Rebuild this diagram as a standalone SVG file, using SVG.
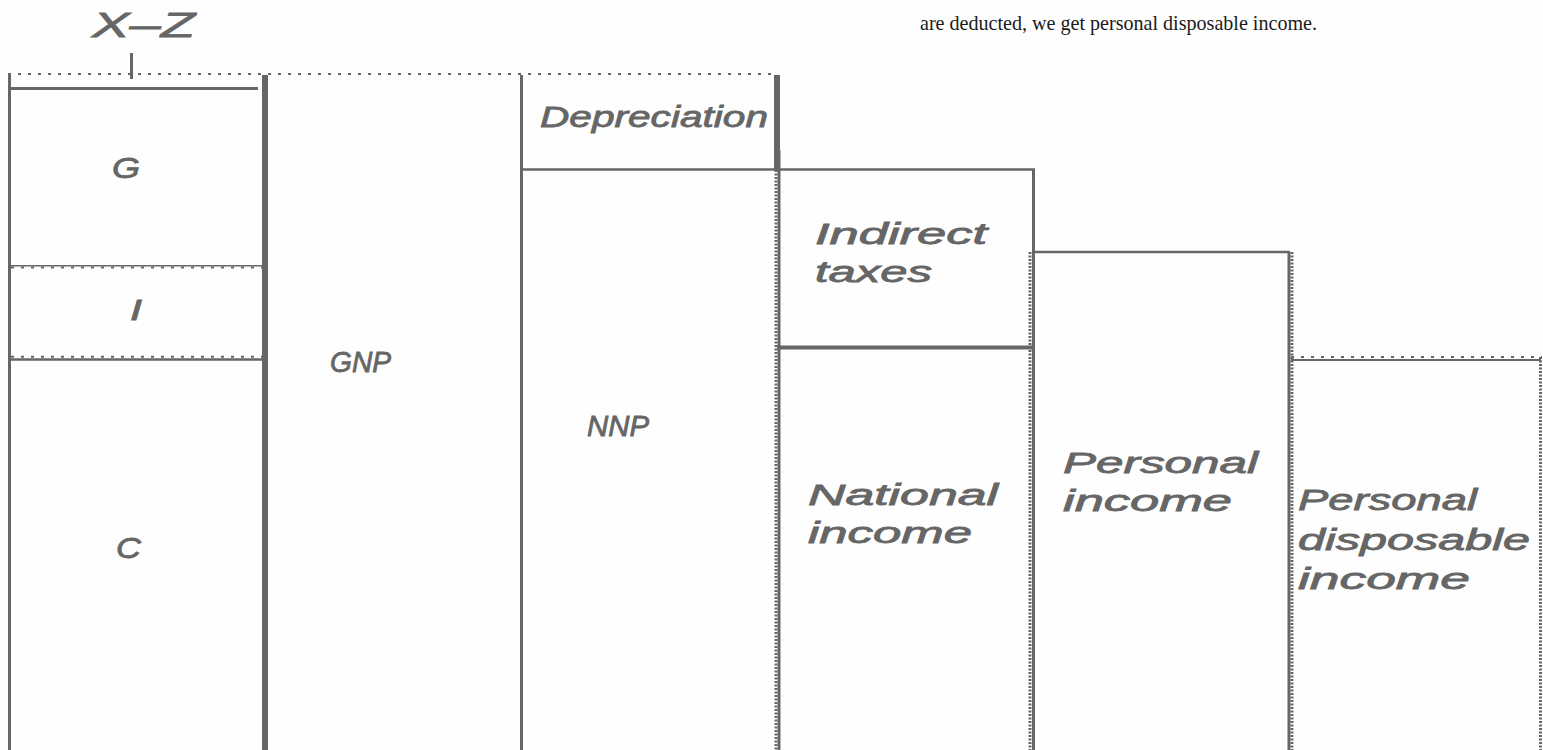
<svg xmlns="http://www.w3.org/2000/svg" width="1543" height="750" viewBox="0 0 1543 750">
<style>
.ln{stroke:#666;fill:none;stroke-linecap:butt}
.dot{stroke:#666;fill:none;stroke-width:2;stroke-dasharray:3 7}
.tick{stroke:#666;fill:none;stroke-width:3;stroke-dasharray:2 1.5}
.lbl{font-family:"Liberation Sans",Arial,sans-serif;font-style:italic;font-size:29px;fill:#666;stroke:#666;stroke-width:0.8}
.note{font-family:"Liberation Serif","Times New Roman",serif;font-size:22px;fill:#1a1a1a}
</style>
<rect width="1543" height="750" fill="#fefefe"/>
<text class="note" x="920" y="30" textLength="397" lengthAdjust="spacingAndGlyphs">are deducted, we get personal disposable income.</text>

<g id="xz-label">
<text class="lbl" x="92" y="37" style="font-size:35px" textLength="103" lengthAdjust="spacingAndGlyphs">X–Z</text>
</g>

<g id="frame">
<line class="dot" x1="8" y1="74" x2="778" y2="74"/>
<line class="ln" x1="9.5" y1="75" x2="9.5" y2="750" stroke-width="3"/>
<line class="ln" x1="265" y1="75" x2="265" y2="750" stroke-width="6"/>
<line class="ln" x1="521.5" y1="75" x2="521.5" y2="750" stroke-width="3"/>
</g>

<g id="node-G">
<line class="ln" x1="9" y1="88.5" x2="258" y2="88.5" stroke-width="3"/>
<text class="lbl" x="112" y="178" textLength="28" lengthAdjust="spacingAndGlyphs">G</text>
</g>

<g id="node-I">
<line class="ln" x1="11" y1="265.8" x2="262" y2="265.8" stroke-width="1.6"/>
<line class="dot" x1="11" y1="267.6" x2="262" y2="267.6"/>
<line class="dot" x1="11" y1="356.8" x2="262" y2="356.8"/>
<line class="ln" x1="11" y1="359.5" x2="262" y2="359.5" stroke-width="2.5"/>
<text class="lbl" x="130" y="320" textLength="12" lengthAdjust="spacingAndGlyphs">I</text>
</g>

<g id="node-C">
<text class="lbl" x="116" y="558" textLength="25" lengthAdjust="spacingAndGlyphs">C</text>
</g>

<g id="node-GNP">
<text class="lbl" x="330" y="372" textLength="61" lengthAdjust="spacingAndGlyphs">GNP</text>
</g>

<g id="node-Depreciation">
<line class="ln" x1="777" y1="75" x2="777" y2="170" stroke-width="6"/>
<text class="lbl" x="540" y="127" textLength="228" lengthAdjust="spacingAndGlyphs">Depreciation</text>
</g>

<g id="node-NNP">
<line class="ln" x1="521" y1="169.5" x2="1035" y2="169.5" stroke-width="2.5"/>
<text class="lbl" x="587" y="436" textLength="62" lengthAdjust="spacingAndGlyphs">NNP</text>
</g>

<g id="node-IndirectTaxes">
<line class="ln" x1="779" y1="150" x2="779" y2="750" stroke-width="3"/>
<line class="tick" x1="776" y1="170" x2="776" y2="750"/>
<line class="ln" x1="1033.5" y1="169" x2="1033.5" y2="750" stroke-width="3"/>
<line class="ln" x1="777" y1="347.5" x2="1033" y2="347.5" stroke-width="4"/>
<text class="lbl" x="815" y="244" textLength="172" lengthAdjust="spacingAndGlyphs">Indirect</text>
<text class="lbl" x="815" y="282" textLength="117" lengthAdjust="spacingAndGlyphs">taxes</text>
</g>

<g id="node-NationalIncome">
<text class="lbl" x="808" y="505" textLength="190" lengthAdjust="spacingAndGlyphs">National</text>
<text class="lbl" x="808" y="543" textLength="164" lengthAdjust="spacingAndGlyphs">income</text>
</g>

<g id="node-PersonalIncome">
<line class="tick" x1="1030" y1="252" x2="1030" y2="750"/>
<line class="ln" x1="1033" y1="252" x2="1290" y2="252" stroke-width="2.5"/>
<line class="ln" x1="1289" y1="252" x2="1289" y2="750" stroke-width="3"/>
<line class="tick" x1="1292" y1="252" x2="1292" y2="750"/>
<text class="lbl" x="1063" y="473" textLength="195" lengthAdjust="spacingAndGlyphs">Personal</text>
<text class="lbl" x="1063" y="511" textLength="169" lengthAdjust="spacingAndGlyphs">income</text>
</g>

<g id="node-PersonalDisposableIncome">
<line class="dot" x1="1291" y1="357" x2="1542" y2="357"/>
<line class="ln" x1="1291" y1="360" x2="1541" y2="360" stroke-width="2"/>
<line class="tick" x1="1540.5" y1="357" x2="1540.5" y2="750"/>
<text class="lbl" x="1298" y="510" textLength="179" lengthAdjust="spacingAndGlyphs">Personal</text>
<text class="lbl" x="1298" y="550" textLength="232" lengthAdjust="spacingAndGlyphs">disposable</text>
<text class="lbl" x="1298" y="589" textLength="172" lengthAdjust="spacingAndGlyphs">income</text>
</g>

<g id="connectors">
<line class="ln" x1="131.5" y1="53" x2="131.5" y2="79" stroke-width="3"/>
</g>
</svg>
